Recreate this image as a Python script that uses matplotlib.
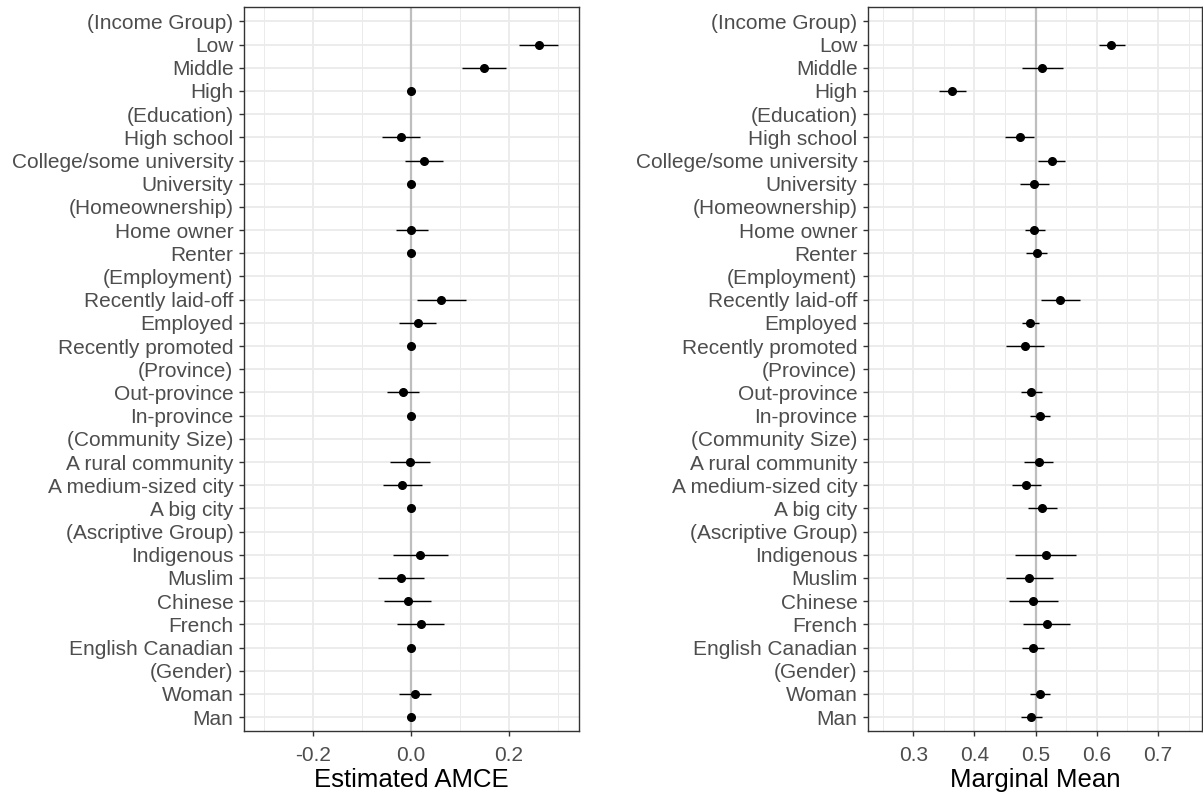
import numpy as np
import matplotlib
matplotlib.use("Agg")
import matplotlib.pyplot as plt
from matplotlib.ticker import FixedLocator

plt.rcParams['font.family'] = ['Liberation Sans', 'DejaVu Sans']

labels = ["(Income Group)", "Low", "Middle", "High",
          "(Education)", "High school", "College/some university", "University",
          "(Homeownership)", "Home owner", "Renter",
          "(Employment)", "Recently laid-off", "Employed", "Recently promoted",
          "(Province)", "Out-province", "In-province",
          "(Community Size)", "A rural community", "A medium-sized city", "A big city",
          "(Ascriptive Group)", "Indigenous", "Muslim", "Chinese", "French", "English Canadian",
          "(Gender)", "Woman", "Man"]

nan = np.nan
amce_est = [nan, 0.261, 0.149, 0.0,
            nan, -0.020, 0.026, 0.0,
            nan, 0.001, 0.0,
            nan, 0.062, 0.014, 0.0,
            nan, -0.017, 0.0,
            nan, -0.002, -0.018, 0.0,
            nan, 0.019, -0.021, -0.007, 0.020, 0.0,
            nan, 0.008, 0.0]
amce_lo = [nan, 0.221, 0.104, 0.0,
           nan, -0.059, -0.012, 0.0,
           nan, -0.031, 0.0,
           nan, 0.012, -0.024, 0.0,
           nan, -0.049, 0.0,
           nan, -0.042, -0.057, 0.0,
           nan, -0.037, -0.067, -0.055, -0.028, 0.0,
           nan, -0.024, 0.0]
amce_hi = [nan, 0.300, 0.194, 0.0,
           nan, 0.019, 0.065, 0.0,
           nan, 0.035, 0.0,
           nan, 0.113, 0.052, 0.0,
           nan, 0.016, 0.0,
           nan, 0.039, 0.022, 0.0,
           nan, 0.075, 0.026, 0.041, 0.068, 0.0,
           nan, 0.041, 0.0]

mm_est = [nan, 0.624, 0.511, 0.364,
          nan, 0.474, 0.526, 0.498,
          nan, 0.498, 0.502,
          nan, 0.540, 0.491, 0.482,
          nan, 0.493, 0.507,
          nan, 0.505, 0.485, 0.511,
          nan, 0.517, 0.489, 0.496, 0.518, 0.496,
          nan, 0.507, 0.493]
mm_lo = [nan, 0.603, 0.478, 0.342,
         nan, 0.450, 0.504, 0.475,
         nan, 0.482, 0.485,
         nan, 0.508, 0.478, 0.452,
         nan, 0.476, 0.491,
         nan, 0.481, 0.461, 0.487,
         nan, 0.467, 0.451, 0.457, 0.480, 0.478,
         nan, 0.491, 0.476]
mm_hi = [nan, 0.646, 0.545, 0.386,
         nan, 0.497, 0.548, 0.522,
         nan, 0.515, 0.519,
         nan, 0.572, 0.505, 0.513,
         nan, 0.510, 0.523,
         nan, 0.529, 0.508, 0.535,
         nan, 0.566, 0.528, 0.536, 0.556, 0.514,
         nan, 0.523, 0.510]

amce_ticks = [-0.2, 0.0, 0.2]
amce_ticklabels = ["-0.2", "0.0", "0.2"]
mm_ticks = [0.3, 0.4, 0.5, 0.6, 0.7]
mm_ticklabels = ["0.3", "0.4", "0.5", "0.6", "0.7"]

W, H = 1203, 794
fig = plt.figure(figsize=(W / 100, H / 100), dpi=100)

def px_axes(x0, y0, x1, y1):
    return fig.add_axes([x0 / W, 1 - y1 / H, (x1 - x0) / W, (y1 - y0) / H])

ax1 = px_axes(244, 7.5, 579, 731)
ax2 = px_axes(868, 7.5, 1202, 731)

n = len(labels)
ypos = np.arange(n)[::-1]

def draw(ax, est, lo, hi, ref, xlim, ticks, ticklabels, minor, title):
    ax.set_facecolor('white')
    ax.set_xlim(*xlim)
    ax.set_ylim(-0.6, n - 1 + 0.6)
    ax.xaxis.set_major_locator(FixedLocator(ticks))
    ax.xaxis.set_minor_locator(FixedLocator(minor))
    ax.set_xticklabels(ticklabels)
    ax.set_yticks(ypos)
    ax.set_yticklabels(labels)
    ax.grid(True, which='major', color='#EBEBEB', linewidth=1.3, zorder=0)
    ax.grid(True, which='minor', axis='x', color='#EBEBEB', linewidth=0.7, zorder=0)
    ax.set_axisbelow(True)
    ax.axvline(ref, color='#BEBEBE', linewidth=1.6, zorder=1)
    est = np.array(est); lo = np.array(lo); hi = np.array(hi)
    ax.hlines(ypos, lo, hi, color='black', linewidth=1.0, zorder=2)
    ax.plot(est, ypos, 'o', color='black', markersize=5.5, zorder=3)
    for s in ax.spines.values():
        s.set_color('#333333')
        s.set_linewidth(1.0)
    ax.tick_params(axis='both', which='major', colors='#333333', length=3.8,
                   width=1.0, labelsize=15, labelcolor='#4D4D4D', pad=3.8)
    ax.tick_params(axis='x', which='major', pad=7)
    ax.tick_params(axis='x', which='minor', length=0)
    ax.set_xlabel(title, fontsize=18.5, color='black', labelpad=2.5)

draw(ax1, amce_est, amce_lo, amce_hi, 0.0, (-0.341, 0.343), amce_ticks,
     amce_ticklabels, [-0.3, -0.1, 0.1, 0.3], "Estimated AMCE")
draw(ax2, mm_est, mm_lo, mm_hi, 0.5, (0.226, 0.772), mm_ticks,
     mm_ticklabels, [0.25, 0.35, 0.45, 0.55, 0.65, 0.75], "Marginal Mean")

fig.savefig("out.png", dpi=100, facecolor='white')
